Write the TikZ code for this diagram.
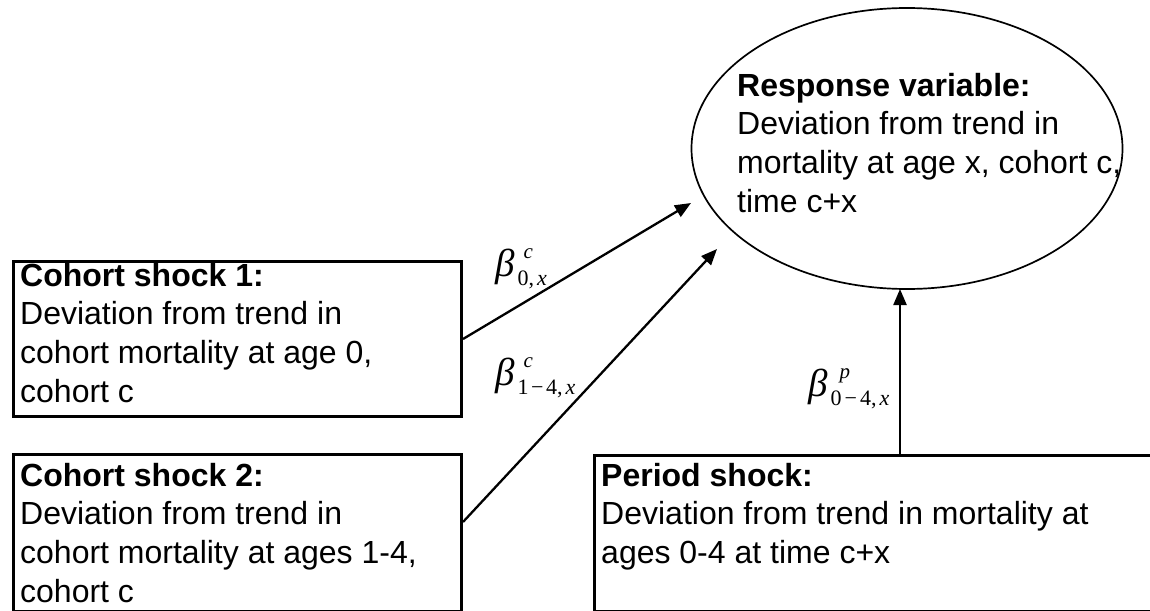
\documentclass[tikz,border=0pt]{standalone}
\usepackage{fontspec}
\setmainfont{Liberation Sans}
\newfontfamily\tms{Liberation Serif}
\usetikzlibrary{arrows.meta,calc,shapes.geometric}
\newcommand\blab[3]{{\tms\fontsize{39}{39}\selectfont\itshape β\kern3pt\rlap{\kern#3\raisebox{18pt}{\fontsize{21}{21}\selectfont #1}}\raisebox{-9pt}{\fontsize{22}{22}\selectfont #2}}}
\tikzset{
  boxshape/.style={draw, line width=3pt, anchor=north west, inner sep=0pt},
  txt/.style={font=\fontsize{32}{38.6}\selectfont, align=left, anchor=north west, inner sep=0pt},
  arr/.style={line width=2.3pt, -{Triangle[length=16pt,width=13pt]}},
  lab/.style={anchor=base west, inner sep=0pt}
}
\begin{document}
\begin{tikzpicture}[x=1pt,y=-1pt]
\useasboundingbox (0,0) rectangle (1150,610);
\clip (0,0) rectangle (1150,610);
% response ellipse
\node[draw, line width=1.7pt, ellipse, minimum width=431pt, minimum height=281pt, inner sep=0pt] (resp) at (907,148.5) {};
\node[txt] (respt) at (737,73) {\textbf{Response variable:}\\Deviation from trend in\\mortality at age x, cohort c,\\time c+x};
% boxes
\node[boxshape, minimum width=448pt, minimum height=155pt] (c1) at (12,260) {};
\node[txt] (c1t) at (20,263) {\textbf{Cohort shock 1:}\\Deviation from trend in\\cohort mortality at age 0,\\cohort c};
\node[boxshape, minimum width=448pt, minimum height=157pt] (c2) at (12,453) {};
\node[txt] (c2t) at (20,463) {\textbf{Cohort shock 2:}\\Deviation from trend in\\cohort mortality at ages 1-4,\\cohort c};
\node[boxshape, minimum width=580pt, minimum height=156pt] (pb) at (593,454) {};
\node[txt] (pbt) at (601,463) {\textbf{Period shock:}\\Deviation from trend in mortality at\\ages 0-4 at time c+x};
% arrows
\coordinate (t1) at (691,203);
\coordinate (t2) at (717,249);
\coordinate (t3) at (900,289);
\draw[arr] (c1.east) -- (t1);
\draw[arr] ($(c2.north east)+(0,69)$) -- (t2);
\draw[arr] (pb.north west -| t3) -- (t3);
% labels
\node[lab] (l1) at (495,276) {\blab{c}{{\upshape 0,}\kern3pt x}{6pt}};
\node[lab] (l2) at (495,385) {\blab{c}{{\upshape 1\kern2.5pt−\kern2.5pt4,}\kern3pt x}{6pt}};
\node[lab] (l3) at (808,396) {\blab{p}{{\upshape 0\kern3pt−\kern3pt4,}\kern3pt x}{9pt}};
\end{tikzpicture}
\end{document}
